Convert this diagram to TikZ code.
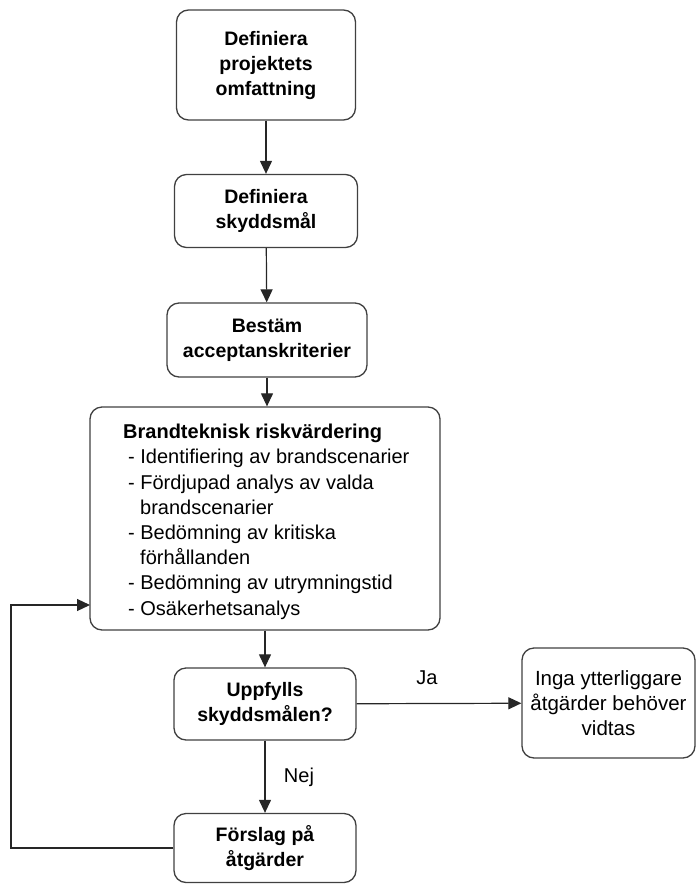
\documentclass[tikz,border=0pt]{standalone}
\usepackage{fontspec}
\setmainfont{Liberation Sans}
\usetikzlibrary{arrows.meta}
\tikzset{
  stepbox/.style={draw=black!75, line width=1.3pt, rounded corners=12pt, align=center, inner sep=0pt, font=\bfseries\fontsize{19.5}{25}\selectfont},
  plainbox/.style={draw=black!75, line width=1.3pt, rounded corners=12pt, align=center, inner sep=0pt, font=\fontsize{20.5}{25}\selectfont},
  conn/.style={draw=black!85, line width=1.2pt, -{Triangle[length=13pt,width=12pt]}},
  lbl/.style={font=\fontsize{20}{22}\selectfont}
}
\begin{document}
\begin{tikzpicture}[x=1pt,y=-1pt]
\useasboundingbox (0,0) rectangle (697,884);
\node[stepbox, minimum width=179pt, minimum height=110pt] (b1) at (266,65) {Definiera\\projektets\\omfattning};
\node[stepbox, minimum width=183pt, minimum height=73pt] (b2) at (266,211) {Definiera\\skyddsmål};
\node[stepbox, minimum width=200pt, minimum height=74pt] (b3) at (267,340) {Bestäm\\acceptanskriterier};
\node[draw=black!75, line width=1.3pt, rounded corners=12pt, minimum width=350pt, minimum height=223pt, inner sep=0pt] (b4) at (265,518.5) {};
\node[anchor=north west, align=left, inner sep=0pt, font=\fontsize{20}{25.2}\selectfont] (b4t) at (123,424)
 {{\bfseries Brandteknisk riskvärdering}\\
  \hspace*{5pt}- Identifiering av brandscenarier\\
  \hspace*{5pt}- Fördjupad analys av valda\\
  \hspace*{17pt}brandscenarier\\
  \hspace*{5pt}- Bedömning av kritiska\\
  \hspace*{17pt}förhållanden\\
  \hspace*{5pt}- Bedömning av utrymningstid\\
  \hspace*{5pt}- Osäkerhetsanalys};
\node[stepbox, minimum width=182pt, minimum height=72pt] (b5) at (265,704) {Uppfylls\\skyddsmålen?};
\node[plainbox, minimum width=173pt, minimum height=110pt] (b6) at (608.5,703) {Inga ytterliggare\\åtgärder behöver\\vidtas};
\node[stepbox, minimum width=182pt, minimum height=69pt] (b7) at (265,848) {Förslag på\\åtgärder};
\coordinate (c1) at (11,848);
\coordinate (c2) at (11,605);
\coordinate (c3) at (90,605);
\draw[conn] (b1) -- (b2);
\draw[conn] (b2) -- (b3);
\draw[conn] (b3.south) -- (b3.south |- b4.north);
\draw[conn] (b4.south -| b5.north) -- (b5.north);
\draw[conn] (b5) -- (b6);
\draw[conn] (b5) -- (b7);
\draw[conn] (b7.west) -- (c1) -- (c2) -- (c3);
\node[lbl] (ja) at (427,678) {Ja};
\node[lbl] (nej) at (299,777) {Nej};
\end{tikzpicture}
\end{document}
